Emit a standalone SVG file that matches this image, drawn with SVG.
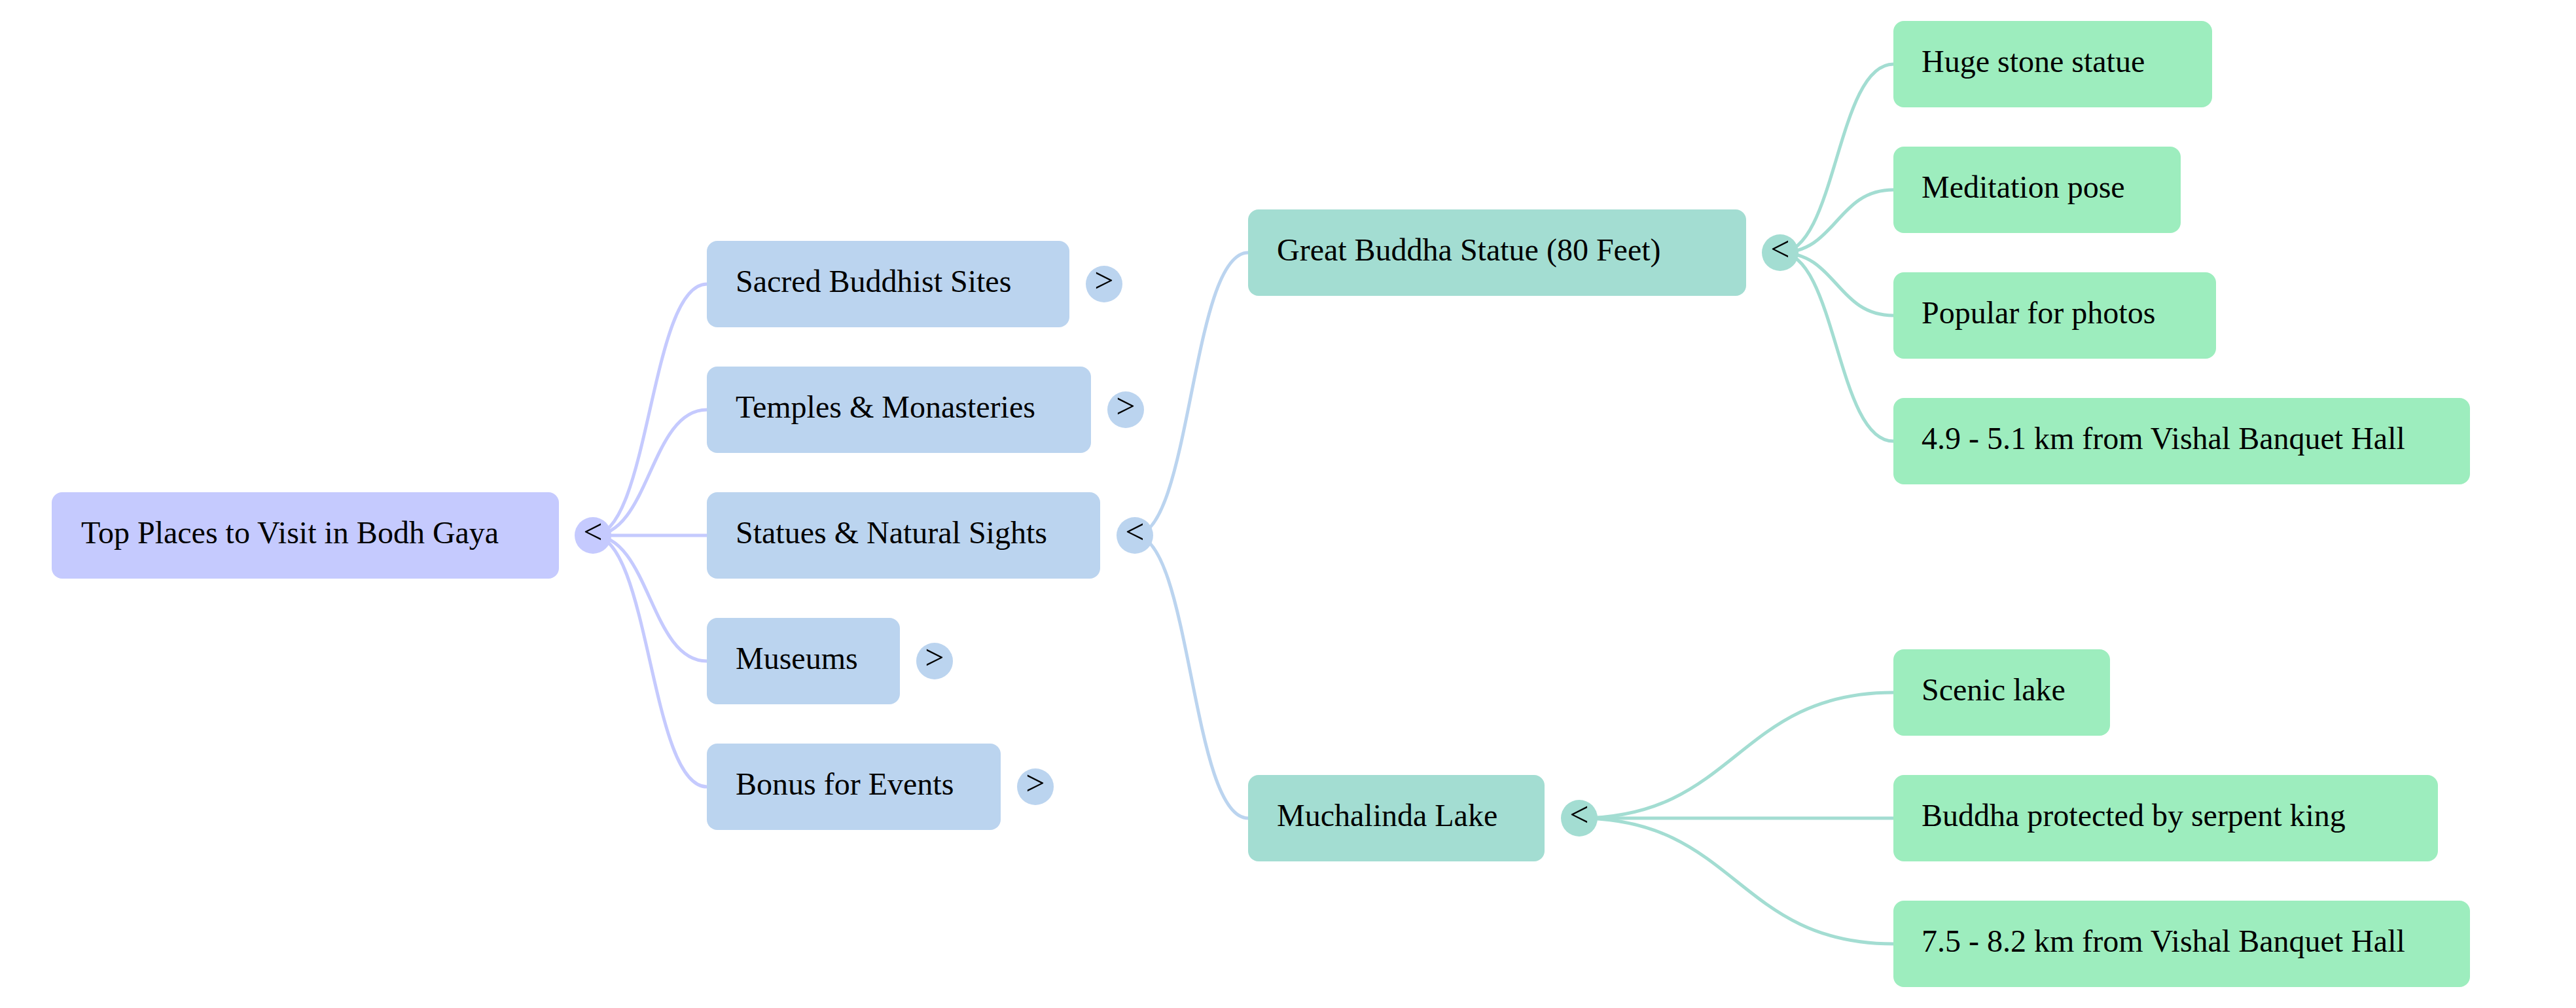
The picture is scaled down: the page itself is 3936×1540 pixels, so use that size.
<svg xmlns="http://www.w3.org/2000/svg" width="3936" height="1540" viewBox="0 0 3936 1540">
<style>
text{font-family:"Liberation Serif","Times New Roman",serif;font-size:48px;fill:#000}
.t{text-anchor:start}
.g{text-anchor:middle;font-size:52px}
.c0{fill:#C5CAFE}
.c1{fill:#BBD4EF}
.c2{fill:#A3DDD2}
.c3{fill:#9DEDBE}
.e{fill:none;stroke-width:5;stroke-linecap:round}
.e0{stroke:#C5CAFE}
.e1{stroke:#BBD4EF}
.e2{stroke:#A3DDD2}
</style>
<rect width="3936" height="1540" fill="#fff"/>
<g id="connectors">
<path class="e e0" d="M906 818C993 818 993 434 1080 434"/>
<path class="e e0" d="M906 818C993 818 993 626 1080 626"/>
<path class="e e0" d="M906 818C993 818 993 818 1080 818"/>
<path class="e e0" d="M906 818C993 818 993 1010 1080 1010"/>
<path class="e e0" d="M906 818C993 818 993 1202 1080 1202"/>
<path class="e e1" d="M1734 818C1820 818 1820 386 1907 386"/>
<path class="e e1" d="M1734 818C1820 818 1820 1250 1907 1250"/>
<path class="e e2" d="M2720 386C2806 386 2806 98 2893 98"/>
<path class="e e2" d="M2720 386C2806 386 2806 290 2893 290"/>
<path class="e e2" d="M2720 386C2806 386 2806 482 2893 482"/>
<path class="e e2" d="M2720 386C2806 386 2806 674 2893 674"/>
<path class="e e2" d="M2413 1250C2653 1250 2653 1058 2893 1058"/>
<path class="e e2" d="M2413 1250C2653 1250 2653 1250 2893 1250"/>
<path class="e e2" d="M2413 1250C2653 1250 2653 1442 2893 1442"/>
</g>
<g id="root">
<rect class="c0" x="79" y="752" width="775" height="132" rx="16"/>
<text class="t" x="124" y="830">Top Places to Visit in Bodh Gaya</text>
<circle class="c0" cx="906" cy="818" r="28"/>
<text class="g" x="906" y="830">&lt;</text>
</g>
<g id="sacred">
<rect class="c1" x="1080" y="368" width="554" height="132" rx="16"/>
<text class="t" x="1124" y="446">Sacred Buddhist Sites</text>
<circle class="c1" cx="1687" cy="434" r="28"/>
<text class="g" x="1687" y="446">&gt;</text>
</g>
<g id="temples">
<rect class="c1" x="1080" y="560" width="587" height="132" rx="16"/>
<text class="t" x="1124" y="638">Temples &amp; Monasteries</text>
<circle class="c1" cx="1720" cy="626" r="28"/>
<text class="g" x="1720" y="638">&gt;</text>
</g>
<g id="statues">
<rect class="c1" x="1080" y="752" width="601" height="132" rx="16"/>
<text class="t" x="1124" y="830">Statues &amp; Natural Sights</text>
<circle class="c1" cx="1734" cy="818" r="28"/>
<text class="g" x="1734" y="830">&lt;</text>
</g>
<g id="museums">
<rect class="c1" x="1080" y="944" width="295" height="132" rx="16"/>
<text class="t" x="1124" y="1022">Museums</text>
<circle class="c1" cx="1428" cy="1010" r="28"/>
<text class="g" x="1428" y="1022">&gt;</text>
</g>
<g id="bonus">
<rect class="c1" x="1080" y="1136" width="449" height="132" rx="16"/>
<text class="t" x="1124" y="1214">Bonus for Events</text>
<circle class="c1" cx="1582" cy="1202" r="28"/>
<text class="g" x="1582" y="1214">&gt;</text>
</g>
<g id="great-buddha">
<rect class="c2" x="1907" y="320" width="761" height="132" rx="16"/>
<text class="t" x="1951" y="398">Great Buddha Statue (80 Feet)</text>
<circle class="c2" cx="2720" cy="386" r="28"/>
<text class="g" x="2720" y="398">&lt;</text>
</g>
<g id="muchalinda">
<rect class="c2" x="1907" y="1184" width="453" height="132" rx="16"/>
<text class="t" x="1951" y="1262">Muchalinda Lake</text>
<circle class="c2" cx="2413" cy="1250" r="28"/>
<text class="g" x="2413" y="1262">&lt;</text>
</g>
<g id="huge-stone">
<rect class="c3" x="2893" y="32" width="487" height="132" rx="16"/>
<text class="t" x="2936" y="110">Huge stone statue</text>
</g>
<g id="meditation">
<rect class="c3" x="2893" y="224" width="439" height="132" rx="16"/>
<text class="t" x="2936" y="302">Meditation pose</text>
</g>
<g id="popular">
<rect class="c3" x="2893" y="416" width="493" height="132" rx="16"/>
<text class="t" x="2936" y="494">Popular for photos</text>
</g>
<g id="distance-1">
<rect class="c3" x="2893" y="608" width="881" height="132" rx="16"/>
<text class="t" x="2936" y="686">4.9 - 5.1 km from Vishal Banquet Hall</text>
</g>
<g id="scenic">
<rect class="c3" x="2893" y="992" width="331" height="132" rx="16"/>
<text class="t" x="2936" y="1070">Scenic lake</text>
</g>
<g id="serpent">
<rect class="c3" x="2893" y="1184" width="832" height="132" rx="16"/>
<text class="t" x="2936" y="1262">Buddha protected by serpent king</text>
</g>
<g id="distance-2">
<rect class="c3" x="2893" y="1376" width="881" height="132" rx="16"/>
<text class="t" x="2936" y="1454">7.5 - 8.2 km from Vishal Banquet Hall</text>
</g>
</svg>
